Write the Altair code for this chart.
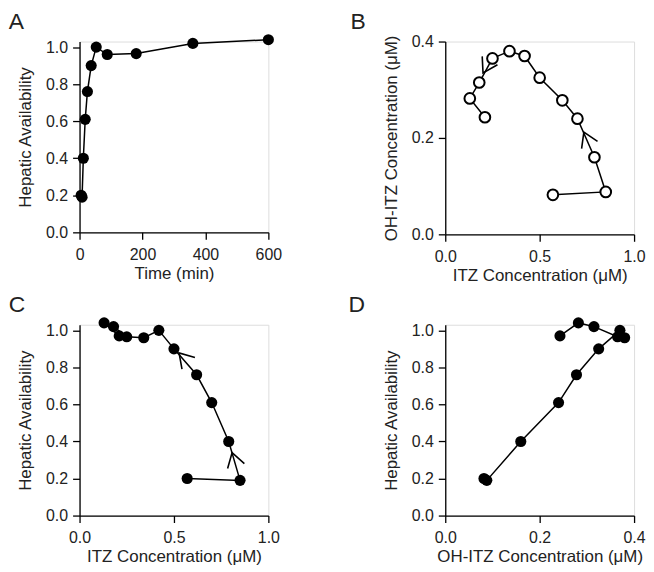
import altair as alt
import pandas as pd

# Panel A: time course (as drawn)
time_min = [5, 8, 12, 18, 25, 37, 53, 88, 180, 360, 600]
avail_time = [0.20, 0.19, 0.40, 0.61, 0.76, 0.90, 1.00, 0.96, 0.965, 1.02, 1.04]

# Panels B-D: hysteresis loops (sampling order)
itz = [0.57, 0.85, 0.79, 0.70, 0.62, 0.50, 0.42, 0.34, 0.25, 0.18, 0.13, 0.21]
ohitz = [0.082, 0.088, 0.160, 0.240, 0.278, 0.325, 0.370, 0.380, 0.365, 0.315, 0.282, 0.243]
avail = [0.20, 0.19, 0.40, 0.61, 0.76, 0.90, 1.00, 0.96, 0.965, 1.02, 1.04, 0.97]

# Direction arrows (annotation positions in data units)
arrowB_x = [0.734, 0.20]
arrowB_y = [0.212, 0.335]
arrowB_angle = [336, 209]
arrowC_x = [0.527, 0.808]
arrowC_y = [0.878, 0.34]
arrowC_angle = [318, 344]

dfA = pd.DataFrame({"t": time_min, "h": avail_time, "i": range(len(time_min))})
dfL = pd.DataFrame({"itz": itz, "oh": ohitz, "h": avail, "i": range(len(itz))})
dfArB = pd.DataFrame({"x": arrowB_x, "y": arrowB_y, "a": arrowB_angle})
dfArC = pd.DataFrame({"x": arrowC_x, "y": arrowC_y, "a": arrowC_angle})

FONT = "Liberation Sans"
chevron = "M -0.62 1 L 0 0 L 0.62 1"


def ax(title, values, fmt, orient):
    if orient == "x":
        lp, tp = 7, 3
    else:
        lp, tp = 5, 11
    return alt.Axis(title=title, values=values, format=fmt, grid=False,
                    domainColor="black", tickColor="black", domainWidth=1.3,
                    tickWidth=1.3, tickSize=7, labelColor="#222",
                    titleColor="#222", labelFont=FONT, titleFont=FONT,
                    labelFontSize=16, titleFontSize=17, titleFontWeight="normal",
                    labelPadding=lp, titlePadding=tp, labelFlush=False,
                    labelOverlap=False)


def ttl(letter, dx):
    return alt.TitleParams(text=letter, anchor="start", frame="bounds", dx=dx,
                           fontSize=23, fontWeight="normal", font=FONT,
                           color="#222", offset=0)


def panel(df, xf, yf, xscale, yscale, xaxis, yaxis, filled, w, h, letter, dx,
          arrows=None):
    x = alt.X(f"{xf}:Q", scale=xscale, axis=xaxis)
    y = alt.Y(f"{yf}:Q", scale=yscale, axis=yaxis)
    base = alt.Chart(df)
    line = base.mark_line(color="black", strokeWidth=1.5, clip=False).encode(
        x=x, y=y, order="i:Q")
    if filled:
        pts = base.mark_circle(color="black", size=125, opacity=1).encode(x=x, y=y)
    else:
        pts = base.mark_point(shape="circle", filled=True, fill="white",
                              stroke="black", strokeWidth=2, size=115,
                              opacity=1).encode(x=x, y=y)
    layers = [line, pts]
    if arrows is not None:
        ar = alt.Chart(arrows).mark_point(shape=chevron, filled=False,
                                          stroke="black", strokeWidth=1.6,
                                          size=800, opacity=1).encode(
            x=alt.X("x:Q", scale=xscale, axis=xaxis),
            y=alt.Y("y:Q", scale=yscale, axis=yaxis),
            angle=alt.Angle("a:Q", scale=None))
        layers.append(ar)
    return alt.layer(*layers).properties(width=w, height=h, title=ttl(letter, dx))


hep_ticks = [0, 0.2, 0.4, 0.6, 0.8, 1.0]
W = 190

A = panel(dfA, "t", "h",
          alt.Scale(domain=[0, 600], nice=False),
          alt.Scale(domain=[0, 1.03], nice=False),
          ax("Time (min)", [0, 200, 400, 600], "d", "x"),
          ax("Hepatic Availability", hep_ticks, ".1f", "y"),
          True, W, 192, "A", -8)

B = panel(dfL, "itz", "oh",
          alt.Scale(domain=[0, 1], nice=False),
          alt.Scale(domain=[0, 0.4], nice=False),
          ax("ITZ Concentration (μM)", [0, 0.5, 1.0], ".1f", "x"),
          ax("OH-ITZ Concentration (μM)", [0, 0.2, 0.4], ".1f", "y"),
          False, W, 194, "B", -32, dfArB)

C = panel(dfL, "itz", "h",
          alt.Scale(domain=[0, 1], nice=False),
          alt.Scale(domain=[0, 1.03], nice=False),
          ax("ITZ Concentration (μM)", [0, 0.5, 1.0], ".1f", "x"),
          ax("Hepatic Availability", hep_ticks, ".1f", "y"),
          True, W, 192, "C", -8, dfArC)

D = panel(dfL, "oh", "h",
          alt.Scale(domain=[0, 0.4], nice=False),
          alt.Scale(domain=[0, 1.03], nice=False),
          ax("OH-ITZ Concentration (μM)", [0, 0.2, 0.4], ".1f", "x"),
          ax("Hepatic Availability", hep_ticks, ".1f", "y"),
          True, W, 192, "D", -34)

chart = alt.vconcat(
    alt.hconcat(A, B, spacing=68),
    alt.hconcat(C, D, spacing=68),
    spacing=10,
).configure_view(stroke=None).configure(background="white", padding=0)

chart.save("out.html", embed_options={"renderer": "svg", "actions": False})
